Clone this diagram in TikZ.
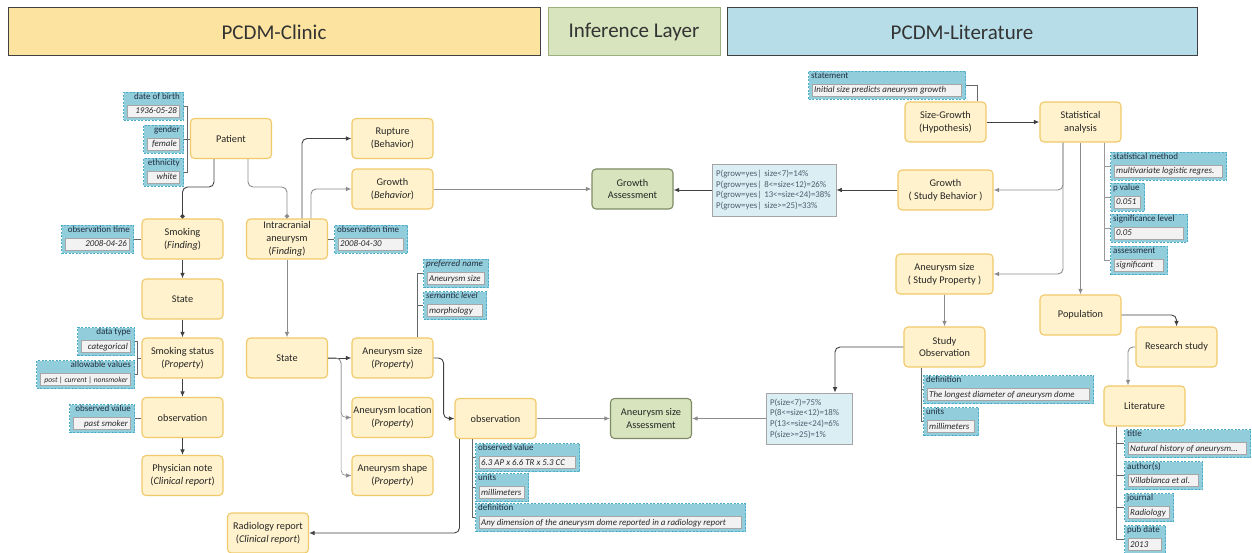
\documentclass[tikz,border=0pt]{standalone}
\usepackage{fontspec}
\setmainfont{Carlito}
\usetikzlibrary{arrows.meta}

\definecolor{yfill}{HTML}{FFF2CC}
\definecolor{ydraw}{HTML}{F0C96A}
\definecolor{gfill}{HTML}{D7E4BD}
\definecolor{gdraw}{HTML}{7E8B66}
\definecolor{afill}{HTML}{92CDDC}
\definecolor{adraw}{HTML}{4BACC6}
\definecolor{vfill}{HTML}{F2F2F2}
\definecolor{vdraw}{HTML}{A6A6A6}
\definecolor{pfill}{HTML}{DAEEF3}
\definecolor{pdraw}{HTML}{A5A5A5}
\definecolor{ptext}{HTML}{4F5F70}
\definecolor{hY}{HTML}{FCE4A0}
\definecolor{hG}{HTML}{D7E4BD}
\definecolor{hGd}{HTML}{9BB07A}
\definecolor{hB}{HTML}{B7DEE8}
\definecolor{cdark}{HTML}{404040}
\definecolor{clight}{HTML}{8C8C8C}
\definecolor{labtext}{HTML}{1F2D3D}

\newcommand\hdfont{\fontsize{21}{25}\selectfont}
\newcommand\ndfont{\fontsize{10.3}{12.8}\selectfont}
\newcommand\lbfont{\fontsize{9}{10}\selectfont}
\newcommand\vlfont{\fontsize{8.9}{10}\selectfont\itshape}
\newcommand\pbfont{\fontsize{8.8}{10.6}\selectfont}

% attribute box: name, x, y, width, label, value (value right aligned)
\newcommand\attrR[6]{%
  \node[attrbox, minimum width=#4pt, anchor=north west] (#1) at (#2,#3) {};
  \draw[valframe] (#2+4,#3+13) rectangle (#2+#4-4,#3+25);
  \node[attrlab, anchor=north east] at (#2+#4-3,#3+1.5) {#5};
  \node[attrval, anchor=base east] at (#2+#4-6,#3+22) {#6};
}
% attribute box: name, x, y, width, label, value (value left aligned)
\newcommand\attrL[6]{%
  \node[attrbox, minimum width=#4pt, anchor=north west] (#1) at (#2,#3) {};
  \draw[valframe] (#2+4,#3+13) rectangle (#2+#4-4,#3+25);
  \node[attrlab, anchor=north west] at (#2+3,#3+1.5) {#5};
  \node[attrval, anchor=base west] at (#2+6,#3+22) {#6};
}

\begin{document}
\begin{tikzpicture}[x=1pt,y=-1pt,
  hdr/.style={draw=black!75, line width=1pt, minimum height=48pt, font=\hdfont, text=black!80},
  ynode/.style={draw=ydraw, fill=yfill, rounded corners=4pt, line width=1.1pt,
    minimum width=81pt, minimum height=40pt, align=center, inner sep=1pt,
    font=\ndfont, text=black!85},
  gnode/.style={ynode, draw=gdraw, fill=gfill},
  probbox/.style={draw=pdraw, fill=pfill, line width=0.6pt, inner xsep=4pt, inner ysep=2pt,
    align=left, font=\pbfont, text=ptext},
  attrbox/.style={draw=adraw, fill=afill, line width=1pt, dash pattern=on 2pt off 1.5pt,
    minimum height=28pt, inner sep=0pt},
  valframe/.style={draw=vdraw, fill=vfill, line width=0.5pt},
  attrlab/.style={inner sep=0pt, font=\lbfont, text=labtext},
  attrval/.style={inner sep=0pt, font=\vlfont, text=black!85},
  conn/.style={draw=cdark, line width=0.9pt, rounded corners=5pt,
    -{Latex[length=5.5pt,width=4.5pt]}},
  connl/.style={conn, draw=clight},
  brk/.style={draw=black!60, line width=0.8pt},
  brkl/.style={draw=black!40, line width=0.8pt}
]
\useasboundingbox (0,0) rectangle (1252,553);

% ---------- layer headers ----------
\node[hdr, fill=hY, minimum width=532pt] (hClinic) at (274,32) {PCDM-Clinic};
\node[hdr, fill=hG, draw=hGd, minimum width=172pt] (hInf) at (634,32) {Inference Layer};
\node[hdr, fill=hB, minimum width=470pt] (hLit) at (962,32) {PCDM-Literature};

% ---------- clinic side ----------
\node[ynode] (patient) at (231,138.5) {Patient};
\node[ynode] (smoking) at (182.5,239) {Smoking\\(\textit{Finding})};
\node[ynode] (intra) at (287,239) {Intracranial\\aneurysm\\(\textit{Finding})};
\node[ynode] (stateL) at (182.5,299) {State};
\node[ynode] (smkstat) at (182.5,358) {Smoking status\\(\textit{Property})};
\node[ynode] (obsL) at (182.5,417.5) {observation};
\node[ynode] (phys) at (182.5,475.5) {Physician note\\(\textit{Clinical report})};
\node[ynode] (radio) at (268,533) {Radiology report\\(\textit{Clinical report})};
\node[ynode] (rupture) at (392.5,138.5) {Rupture\\(Behavior)};
\node[ynode] (growthB) at (392.5,189) {Growth\\(\textit{Behavior})};
\node[ynode] (stateM) at (287,358) {State};
\node[ynode] (asize) at (392.5,358) {Aneurysm size\\(\textit{Property})};
\node[ynode] (aloc) at (392.5,417.5) {Aneurysm location\\(\textit{Property})};
\node[ynode] (ashape) at (392.5,475.5) {Aneurysm shape\\(\textit{Property})};
\node[ynode] (obsM) at (495.5,418.5) {observation};

% ---------- inference layer ----------
\node[gnode] (growthAss) at (632.5,189) {Growth\\Assessment};
\node[gnode] (sizeAss) at (651,418.5) {Aneurysm size\\Assessment};
\node[probbox, text width=116pt, minimum height=52pt] (growthProbs) at (774,190)
  {P(grow=yes| size<7)=14\%\\P(grow=yes| 8<=size<12)=26\%\\P(grow=yes| 13<=size<24)=38\%\\P(grow=yes| size>=25)=33\%};
\node[probbox, text width=78pt, minimum height=51pt] (sizeProbs) at (809,418.5)
  {P(size<7)=75\%\\P(8<=size<12)=18\%\\P(13<=size<24)=6\%\\P(size>=25)=1\%};

% ---------- literature side ----------
\node[ynode] (sg) at (945.5,122) {Size-Growth\\(Hypothesis)};
\node[ynode] (stat) at (1080.5,122) {Statistical\\analysis};
\node[ynode, minimum width=95pt] (growthS) at (945.5,190) {Growth\\( Study Behavior )};
\node[ynode, minimum width=97pt] (studyProp) at (944.5,274) {Aneurysm size\\( Study Property )};
\node[ynode] (studyObs) at (944.5,347) {Study\\Observation};
\node[ynode] (pop) at (1080.5,315) {Population};
\node[ynode] (research) at (1176.5,347) {Research study};
\node[ynode] (lit) at (1144.5,406) {Literature};

% ---------- attribute boxes ----------
\attrR{dob}{123}{92}{60}{date of birth}{1936-05-28}
\attrR{gender}{143}{125}{40}{gender}{female}
\attrR{eth}{143}{158}{40}{ethnicity}{white}
\attrR{otS}{61}{225}{72}{observation time}{2008-04-26}
\attrL{otI}{334}{225}{73}{observation time}{2008-04-30}
\attrR{dtype}{77}{327}{57}{data type}{categorical}
\attrR{allow}{36}{360}{98}{allowable values}{\fontsize{7.6}{10}\selectfont post | current | nonsmoker}
\attrR{ovL}{69}{404}{65}{observed value}{past smoker}
\attrL{pref}{423}{259}{65}{\itshape preferred name}{Aneurysm size}
\attrL{sem}{423}{291}{63}{\itshape semantic level}{morphology}
\attrL{ovM}{475}{443}{104}{observed value}{6.3 AP x 6.6 TR x 5.3 CC}
\attrL{unM}{475}{473}{53}{units}{millimeters}
\attrL{defM}{475}{503}{270}{definition}{Any dimension of the aneurysm dome reported in a radiology report}
\attrL{stmt}{808}{71}{157}{statement}{Initial size predicts aneurysm growth}
\attrL{smeth}{1110}{152}{116}{statistical method}{multivariate logistic regres.}
\attrL{pval}{1110}{183}{34}{p value}{0.051}
\attrL{slev}{1110}{214}{77}{significance level}{0.05}
\attrL{asmt}{1110}{246}{57}{assessment}{significant}
\attrL{defS}{923}{375}{170}{definition}{The longest diameter of aneurysm dome}
\attrL{unS}{923}{407}{55}{units}{millimeters}
\attrL{title}{1124}{429}{126}{title}{Natural history of aneurysm...}
\attrL{auth}{1124}{461}{78}{author(s)}{Villablanca et al.}
\attrL{jour}{1124}{493}{49}{journal}{Radiology}
\attrL{pub}{1124}{525}{41}{pub date}{2013}

% ---------- attribute brackets ----------
\coordinate (bP) at (187,0);
\draw[brk] (dob.east) -- (dob.east -| bP) -- (eth.east -| bP) -- (eth.east);
\draw[brk] (gender.east) -- (gender.east -| patient.west);
\draw[brk] (otS.east) -- (otS.east -| smoking.west);
\draw[brk] (intra.east) -- (intra.east -| otI.west);
\coordinate (bS) at (137,0);
\draw[brk] (dtype.east) -- (dtype.east -| bS) -- (allow.east -| bS) -- (allow.east);
\draw[brk] (bS |- smkstat.west) -- (smkstat.west);
\draw[brk] (ovL.east) -- (ovL.east -| obsL.west);
\coordinate (bA) at (417,0);
\draw[brk] (pref.west) -- (pref.west -| bA) -- (bA |- asize.north);
\draw[brk] (sem.west) -- (sem.west -| bA);
\coordinate (bO) at (472,0);
\draw[brk] (bO |- obsM.south) -- (bO |- defM.west) -- (defM.west);
\draw[brk] (ovM.west) -- (ovM.west -| bO);
\draw[brk] (unM.west) -- (unM.west -| bO);
\draw[brk] (stmt.east) -| ([xshift=31.5pt]sg.north);
\coordinate (bT) at (1104,0);
\draw[brkl] (bT |- stat.south) -- (bT |- asmt.west) -- (asmt.west);
\draw[brkl] (smeth.west) -- (smeth.west -| bT);
\draw[brkl] (pval.west) -- (pval.west -| bT);
\draw[brkl] (slev.west) -- (slev.west -| bT);
\coordinate (bD) at (921,0);
\draw[brk] (bD |- studyObs.south) -- (bD |- unS.west) -- (unS.west);
\draw[brk] (defS.west) -- (defS.west -| bD);
\coordinate (bL) at (1116,0);
\draw[brk] (bL |- lit.south) -- (bL |- pub.west) -- (pub.west);
\draw[brk] (title.west) -- (title.west -| bL);
\draw[brk] (auth.west) -- (auth.west -| bL);
\draw[brk] (jour.west) -- (jour.west -| bL);

% ---------- connectors ----------
\draw[conn, -{Circle[length=4.5pt]}] ([xshift=-17pt]patient.south) -- ++(0,28) -| (smoking.north);
\draw[connl, -{Circle[length=4.5pt]}] ([xshift=17pt]patient.south) -- ++(0,28) -| (intra.north);
\draw[conn] ([xshift=15pt]intra.north) |- (rupture.west);
\draw[connl] ([xshift=24pt]intra.north) |- (growthB.west);
\draw[connl] (intra.south) -- (stateM.north);
\draw[conn] (smoking.south) -- (stateL.north);
\draw[conn] (stateL.south) -- (smkstat.north);
\draw[conn] (smkstat.south) -- (obsL.north);
\draw[conn] (obsL.south) -- (phys.north);
\draw[conn] (stateM.east) -- (asize.west);
\draw[connl, line width=0.6pt] (stateM.east) -- ++(13,0) |- (aloc.west);
\draw[connl, line width=0.6pt] (stateM.east) -- ++(13,0) |- (ashape.west);
\draw[conn] (asize.east) -- ++(10,0) |- (obsM.west);
\draw[conn] ([xshift=5pt]obsM.south west) |- (radio.east);
\draw[connl] (obsM.east) -- (sizeAss.west);
\draw[connl] (sizeProbs.west) -- (sizeAss.east);
\draw[conn] (studyObs.west) -| ([xshift=26pt]sizeProbs.north);
\draw[connl] (studyProp.south) -- (studyObs.north);
\draw[connl] ([xshift=-17.5pt]stat.south) |- (studyProp.east);
\draw[connl] ([xshift=-17.5pt]stat.south) |- (growthS.east);
\draw[connl] (stat.south) -- (pop.north);
\draw[conn] (sg.east) -- (stat.west);
\draw[conn] (growthS.west) -- (growthProbs.east);
\draw[conn] (growthProbs.west) -- (growthProbs.west -| growthAss.east);
\draw[connl] (growthB.east) -- (growthAss.west);
\draw[conn] (pop.east) -| (research.north);
\draw[connl] (research.west) -| ([xshift=-16.5pt]lit.north);
\end{tikzpicture}
\end{document}
